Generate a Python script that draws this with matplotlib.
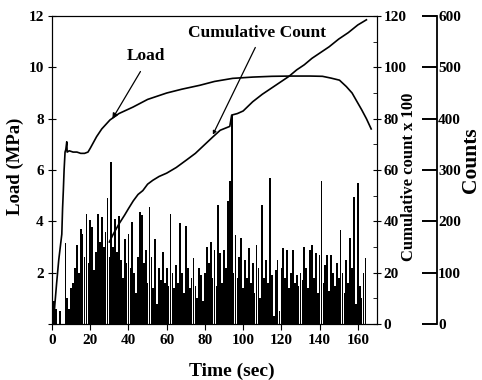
import numpy as np
import matplotlib
matplotlib.use("Agg")
import matplotlib.pyplot as plt

plt.rcParams['font.family'] = ['Liberation Serif', 'DejaVu Serif']
plt.rcParams['font.weight'] = 'bold'

# Load curve (sec, MPa)
load_t = [0.7, 1.5, 2.4, 3.5, 5.1, 5.5, 5.9, 6.3, 6.8, 7.2, 7.7, 7.9, 9, 11, 13, 15, 17,
          18.8, 20, 23.3, 26, 30.3, 35, 42.3, 50, 60, 68, 77.3, 85, 94.5, 105, 115, 125,
          135, 141.5, 146, 150.4, 154, 157, 159.3, 162, 164.5, 167]
load_mpa = [0, 0.8, 1.6, 2.5, 3.5, 4.5, 5.2, 6.0, 6.7, 6.8, 7.1, 6.7, 6.75, 6.7, 6.7, 6.65, 6.65,
            6.7, 6.85, 7.3, 7.6, 7.95, 8.2, 8.45, 8.75, 9.0, 9.15, 9.3, 9.45, 9.57, 9.62, 9.65, 9.66,
            9.66, 9.65, 9.58, 9.5, 9.25, 9.0, 8.7, 8.35, 8.0, 7.6]

# Cumulative count (x 100)
cum_t = [30, 32, 35, 38, 40, 42.5, 45, 47.5, 50, 52.7, 56, 60, 65, 70.5, 75, 80, 84, 88, 93,
         94, 97, 100, 105, 110, 115, 119, 124, 128, 132, 136, 140, 145, 150, 155, 160, 164.5]
cum_count = [32, 35, 39, 42.5, 45, 48, 50.5, 52, 54.5, 56, 57.5, 58.8, 61, 64, 66.5, 70, 72.8,
             75.5, 77, 81.4, 82, 83, 86.6, 89.5, 92, 94, 96.5, 99, 101, 103.5, 105.5, 108,
             111, 113.5, 116.5, 118.5]

# AE counts per second, t = 0 .. 165
counts = [0, 45, 30, 0, 25, 0, 0, 158, 50, 30,
          70, 80, 110, 154, 100, 185, 176, 130, 215, 120,
          202, 190, 105, 140, 215, 160, 209, 150, 180, 245,
          130, 315, 150, 205, 140, 210, 125, 90, 165, 120,
          176, 110, 199, 100, 60, 130, 219, 212, 120, 145,
          80, 228, 130, 70, 165, 40, 110, 85, 140, 80,
          110, 75, 215, 100, 70, 115, 80, 196, 100, 60,
          192, 110, 70, 90, 128, 75, 50, 110, 95, 45,
          100, 150, 120, 160, 90, 145, 75, 232, 138, 80,
          145, 110, 240, 278, 407, 100, 174, 90, 130, 167,
          70, 125, 90, 148, 80, 120, 60, 155, 110, 50,
          232, 90, 125, 80, 284, 95, 15, 105, 125, 25,
          110, 148, 90, 144, 70, 100, 145, 80, 95, 75,
          100, 85, 150, 110, 70, 145, 154, 90, 138, 60,
          135, 278, 80, 115, 134, 65, 134, 100, 75, 120,
          90, 183, 100, 60, 125, 80, 167, 110, 248, 40,
          274, 75, 50, 100, 128, 0]
count_t = np.arange(len(counts))

fig = plt.figure(figsize=(4.82, 3.8), dpi=100)
ax = fig.add_axes([0.108, 0.147, 0.674, 0.811])

# counts axis (far right)
ax_cnt = ax.twinx()
ax_cnt.spines['right'].set_position(('axes', 1.184))
ax_cnt.spines['right'].set_linewidth(1.3)
for s in ['left', 'top', 'bottom']:
    ax_cnt.spines[s].set_visible(False)
ax_cnt.bar(count_t, counts, width=0.9, color='black', linewidth=0)
ax_cnt.set_ylim(0, 600)
ax_cnt.set_yticks(range(0, 601, 100))
ax_cnt.tick_params(axis='y', direction='in', length=11, width=1.4, labelsize=11, pad=1)

# cumulative count axis
ax_cum = ax.twinx()
ax_cum.plot(cum_t, cum_count, color='black', lw=1.2)
ax_cum.set_ylim(0, 120)
ax_cum.set_yticks(range(0, 121, 20))
ax_cum.set_yticks(range(0, 121, 10), minor=True)
ax_cum.tick_params(axis='y', which='major', direction='inout', length=6, labelsize=11, pad=2)
ax_cum.tick_params(axis='y', which='minor', direction='in', length=3)

# load axis
ax.plot(load_t, load_mpa, color='black', lw=1.2)
ax.set_xlim(0, 170)
ax.set_ylim(0, 12)
ax.set_xticks(range(0, 161, 20))
ax.set_yticks(range(0, 13, 2))
ax.set_yticklabels([''] + [str(v) for v in range(2, 13, 2)])
ax.tick_params(axis='y', direction='inout', length=6, labelsize=11, pad=3)
ax.tick_params(axis='x', direction='out', length=4, labelsize=11, pad=3)
ax.set_xlabel('Time (sec)', fontsize=14, fontweight='bold')
ax.xaxis.set_label_coords(0.554, -0.125)
for lbl in ax.get_xticklabels() + ax.get_yticklabels():
    lbl.set_fontweight('bold')

fig.text(15 / 482, 1 - 166 / 380, 'Load (MPa)', rotation=90,
         ha='center', va='center', fontsize=13.5, fontweight='bold')
fig.text(409 / 482, 1 - 177 / 380, 'Cumulative count x 100', rotation=90,
         ha='center', va='center', fontsize=12, fontweight='bold')
fig.text(471 / 482, 1 - 160 / 380, 'Counts', rotation=90,
         ha='center', va='center', fontsize=15.5, fontweight='bold')

ax.set_zorder(ax_cum.get_zorder() + 1)
ax.patch.set_visible(False)

# annotations
ax.text(49, 10.45, 'Load', ha='center', va='center', fontsize=12.5, fontweight='bold')
ax.annotate('', xy=(30.8, 7.9), xytext=(47, 9.93),
            arrowprops=dict(arrowstyle='-|>', color='black', lw=0.9, mutation_scale=8))
ax.text(107.5, 11.35, 'Cumulative Count', ha='center', va='center', fontsize=12.5, fontweight='bold')
ax.annotate('', xy=(83.5, 7.28), xytext=(107, 10.87),
            arrowprops=dict(arrowstyle='-|>', color='black', lw=0.9, mutation_scale=5))

fig.savefig('out.png', dpi=100)
